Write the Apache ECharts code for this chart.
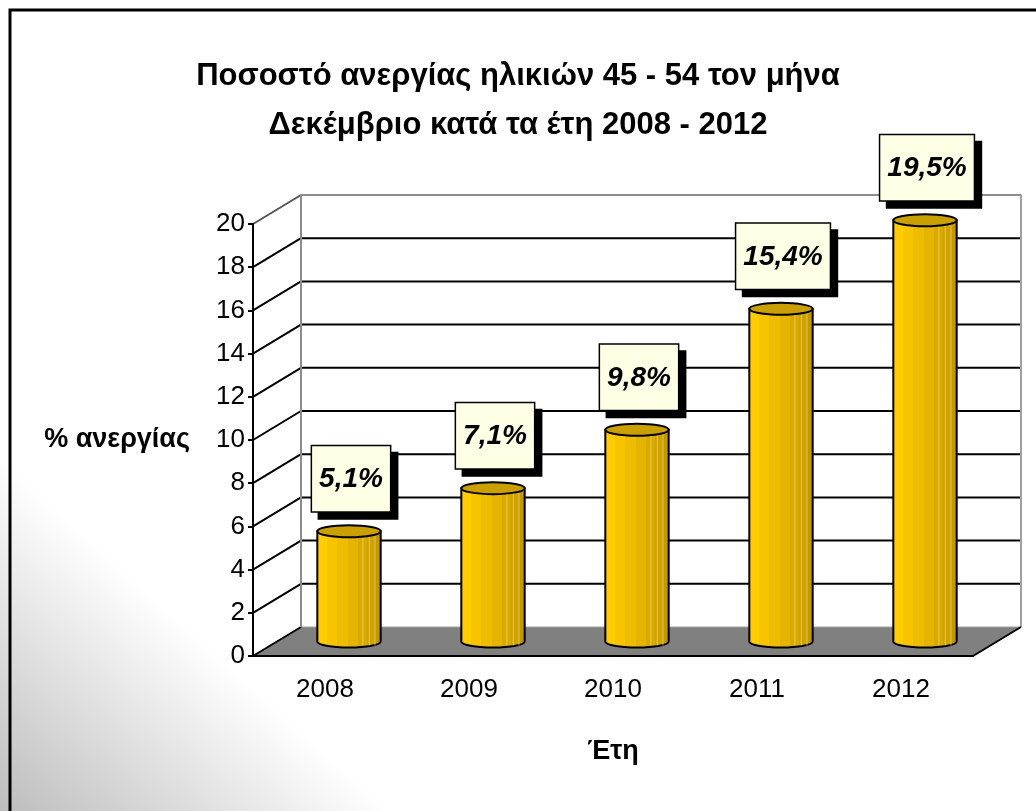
<!DOCTYPE html>
<html>
<head>
<meta charset="utf-8">
<title>Ποσοστό ανεργίας ηλικιών 45 - 54</title>
<script src="https://cdn.jsdelivr.net/npm/echarts@6/dist/echarts.min.js"></script>
<style>
  html, body { margin: 0; padding: 0; background: #fff; }
  #chart { width: 1036px; height: 811px; }
</style>
</head>
<body>
<div id="chart"></div>
<script>
var years = ['2008', '2009', '2010', '2011', '2012'];
var unemployment = [5.1, 7.1, 9.8, 15.4, 19.5];
var valueLabels = ['5,1%', '7,1%', '9,8%', '15,4%', '19,5%'];
var yTicks = [0, 2, 4, 6, 8, 10, 12, 14, 16, 18, 20];

var FONT = '"Liberation Sans", Arial, sans-serif';
// depth of the fake 3d box
var DX = 48, DY = 29;

var myChart = echarts.init(document.getElementById('chart'), null, {renderer: 'canvas'});

function renderWalls(params, api) {
    var cs = params.coordSys;
    var x0 = cs.x, x1 = cs.x + cs.width;
    var yb = cs.y + cs.height;
    var children = [];
    children.push({
        type: 'rect',
        shape: {x: x0 + DX, y: cs.y - DY, width: cs.width, height: cs.height},
        style: {fill: '#ffffff'}
    });
    children.push({
        type: 'polygon',
        shape: {points: [[x0, yb], [x1, yb], [x1 + DX, yb - DY], [x0 + DX, yb - DY]]},
        style: {fill: '#808080', stroke: '#a0a0a0', lineWidth: 1}
    });
    yTicks.forEach(function (v) {
        var y = api.coord([0, v])[1];
        var top = v === yTicks[yTicks.length - 1];
        if (v !== 0) {
            children.push({
                type: 'line',
                shape: {x1: x0 + DX, y1: y - DY, x2: x1 + DX, y2: y - DY},
                style: {stroke: top ? '#8c8c8c' : '#000', lineWidth: 2}
            });
        }
        children.push({
            type: 'line',
            shape: {x1: x0, y1: y, x2: x0 + DX, y2: y - DY},
            style: {stroke: top ? '#555' : '#000', lineWidth: 2}
        });
    });
    // wall edges
    children.push({
        type: 'line',
        shape: {x1: x0 + DX, y1: cs.y - DY, x2: x0 + DX, y2: yb - DY},
        style: {stroke: '#8c8c8c', lineWidth: 2}
    });
    children.push({
        type: 'line',
        shape: {x1: x1 + DX, y1: cs.y - DY, x2: x1 + DX, y2: yb - DY},
        style: {stroke: '#a0a0a0', lineWidth: 2}
    });
    children.push({
        type: 'line',
        shape: {x1: x1, y1: yb, x2: x1 + DX, y2: yb - DY},
        style: {stroke: '#000', lineWidth: 2}
    });
    return {type: 'group', children: children};
}

var bodyFill = new echarts.graphic.LinearGradient(0, 0, 1, 0, [
    {offset: 0, color: '#ffcc00'}, {offset: 0.16, color: '#ffcc00'},
    {offset: 0.16, color: '#f7c500'}, {offset: 0.32, color: '#f7c500'},
    {offset: 0.32, color: '#eebd00'}, {offset: 0.48, color: '#eebd00'},
    {offset: 0.48, color: '#e5b400'}, {offset: 0.64, color: '#e5b400'},
    {offset: 0.64, color: '#d9aa00'}, {offset: 0.78, color: '#d9aa00'},
    {offset: 0.78, color: '#cfa200'}, {offset: 0.9, color: '#cfa200'},
    {offset: 0.9, color: '#c49900'}, {offset: 1, color: '#c49900'}
]);

function barGeom(api) {
    var i = api.value(0), v = api.value(1);
    var top = api.coord([i, v]);
    var base = api.coord([i, 0]);
    var bw = api.size([1, 0])[0];
    return {
        cx: top[0] + DX / 2,
        rx: bw * 0.22,
        ry: 6,
        yT: top[1] - DY / 2,
        yB: base[1] - DY / 2
    };
}

function renderCylinder(params, api) {
    var g = barGeom(api);
    var xL = g.cx - g.rx, xR = g.cx + g.rx;
    var body = 'M' + xL + ' ' + g.yT + ' L' + xL + ' ' + g.yB +
        ' A' + g.rx + ' ' + g.ry + ' 0 0 0 ' + xR + ' ' + g.yB +
        ' L' + xR + ' ' + g.yT + ' Z';
    var cap = 'M' + xL + ' ' + g.yT +
        ' A' + g.rx + ' ' + g.ry + ' 0 1 0 ' + xR + ' ' + g.yT +
        ' A' + g.rx + ' ' + g.ry + ' 0 1 0 ' + xL + ' ' + g.yT + ' Z';
    var children = [{
        type: 'path',
        shape: {pathData: body},
        style: {fill: bodyFill, stroke: '#000', lineWidth: 2}
    }];
    [0.72, 0.82, 0.91].forEach(function (f) {
        var x = xL + f * 2 * g.rx;
        children.push({
            type: 'line',
            shape: {x1: x, y1: g.yT + 4, x2: x, y2: g.yB + 4},
            style: {stroke: '#f0d870', lineWidth: 1, opacity: 0.7}
        });
    });
    children.push({
        type: 'path',
        shape: {pathData: cap},
        style: {fill: '#c9a000', stroke: '#000', lineWidth: 2}
    });
    return {type: 'group', children: children};
}

function renderLabel(params, api) {
    var g = barGeom(api);
    return {
        type: 'text',
        style: {
            text: valueLabels[params.dataIndex],
            x: g.cx + 2,
            y: g.yT - g.ry - 14,
            align: 'center',
            verticalAlign: 'bottom',
            font: 'italic bold 28px ' + FONT,
            fill: '#000',
            lineHeight: 32,
            backgroundColor: '#ffffe6',
            borderColor: '#000',
            borderWidth: 1.5,
            padding: [17, 7, 16, 7],
            shadowColor: '#000',
            shadowBlur: 0,
            shadowOffsetX: 7,
            shadowOffsetY: 7
        }
    };
}

var barData = unemployment.map(function (v, i) { return [i, v]; });

option = {
    backgroundColor: new echarts.graphic.LinearGradient(0, 1, 0.17, 0.76, [
        {offset: 0, color: '#bdbdbd'},
        {offset: 1, color: '#ffffff'}
    ]),
    title: {
        text: 'Ποσοστό ανεργίας ηλικιών 45 - 54 τον μήνα\nΔεκέμβριο κατά τα έτη 2008 - 2012',
        left: 'center',
        top: 47,
        textStyle: {
            fontFamily: FONT,
            fontSize: 31,
            fontWeight: 'bold',
            color: '#000',
            lineHeight: 49
        }
    },
    graphic: [{
        type: 'polyline',
        shape: {points: [[10, 811], [10, 10], [1036, 10]]},
        style: {stroke: '#000', lineWidth: 3, fill: null},
        z: 10
    }],
    grid: {left: 253, right: 63, top: 224, bottom: 155},
    xAxis: {
        type: 'category',
        data: years,
        z: 5,
        name: 'Έτη',
        nameLocation: 'middle',
        nameGap: 82,
        nameTextStyle: {fontFamily: FONT, fontSize: 27, fontWeight: 'bold', color: '#000'},
        axisLine: {lineStyle: {color: '#000', width: 2}},
        axisTick: {length: 6, lineStyle: {color: '#000', width: 2}},
        axisLabel: {fontFamily: FONT, fontSize: 26, color: '#000', margin: 21}
    },
    yAxis: {
        type: 'value',
        min: 0,
        max: 20,
        interval: 2,
        z: 5,
        name: '% ανεργίας',
        nameLocation: 'middle',
        nameRotate: 0,
        nameGap: 63,
        nameTextStyle: {fontFamily: FONT, fontSize: 27, fontWeight: 'bold', color: '#000', align: 'right'},
        axisLine: {show: true, lineStyle: {color: '#000', width: 2}},
        axisTick: {show: true, length: 5, lineStyle: {color: '#000', width: 2}},
        axisLabel: {fontFamily: FONT, fontSize: 26, color: '#000', margin: 8},
        splitLine: {show: false}
    },
    series: [
        {
            name: 'walls',
            type: 'custom',
            renderItem: renderWalls,
            data: [0],
            z: 1,
            silent: true
        },
        {
            name: 'cylinders',
            type: 'custom',
            renderItem: renderCylinder,
            data: barData,
            encode: {x: 0, y: 1},
            z: 2
        },
        {
            name: 'labels',
            type: 'custom',
            renderItem: renderLabel,
            data: barData,
            encode: {x: 0, y: 1},
            z: 3
        }
    ]
};

myChart.setOption(option);
</script>
</body>
</html>
